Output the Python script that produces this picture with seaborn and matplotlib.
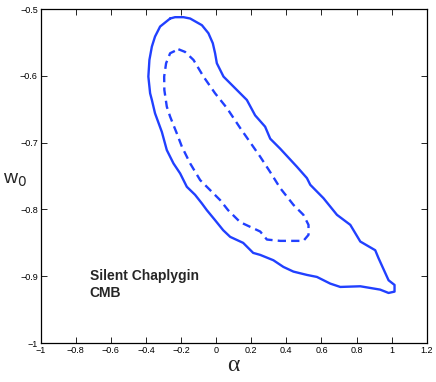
import matplotlib
matplotlib.use("Agg")
import matplotlib.pyplot as plt
import seaborn as sns
import pandas as pd

# Contour 1 (solid, outer)
outer_alpha = [-0.262, -0.234, -0.186, -0.148, -0.081, -0.044, -0.019, -0.006, 0.004, 0.042,
               0.118, 0.175, 0.222, 0.279, 0.308, 0.365, 0.460, 0.517, 0.536, 0.611,
               0.688, 0.764, 0.821, 0.906, 0.925, 0.982, 1.016, 1.016, 0.982, 0.934,
               0.821, 0.707, 0.650, 0.574, 0.517, 0.440, 0.383, 0.326, 0.251, 0.211,
               0.154, 0.080, 0.040, -0.006, -0.053, -0.081, -0.120, -0.167, -0.205, -0.243,
               -0.281, -0.309, -0.348, -0.366, -0.376, -0.386, -0.380, -0.366, -0.348, -0.319,
               -0.262]
outer_w0 = [-0.514, -0.512, -0.512, -0.514, -0.524, -0.536, -0.551, -0.566, -0.581, -0.601,
            -0.621, -0.636, -0.659, -0.676, -0.694, -0.709, -0.736, -0.753, -0.763, -0.783,
            -0.808, -0.823, -0.848, -0.861, -0.873, -0.906, -0.913, -0.923, -0.925, -0.920,
            -0.915, -0.916, -0.911, -0.901, -0.898, -0.893, -0.886, -0.876, -0.868, -0.865,
            -0.850, -0.841, -0.831, -0.816, -0.801, -0.791, -0.778, -0.766, -0.746, -0.731,
            -0.711, -0.684, -0.656, -0.636, -0.626, -0.601, -0.576, -0.556, -0.541, -0.526,
            -0.514]

# Contour 2 (dashed, inner)
inner_alpha = [-0.215, -0.177, -0.129, -0.072, -0.006, 0.061, 0.137, 0.251, 0.308, 0.365,
               0.440, 0.497, 0.526, 0.526, 0.497, 0.365, 0.289, 0.251, 0.137, 0.068,
               0.023, -0.034, -0.091, -0.148, -0.195, -0.224, -0.262, -0.281, -0.295, -0.296,
               -0.285, -0.262, -0.215]
inner_w0 = [-0.560, -0.564, -0.576, -0.601, -0.626, -0.648, -0.678, -0.721, -0.744, -0.768,
            -0.793, -0.808, -0.823, -0.838, -0.847, -0.847, -0.845, -0.833, -0.819, -0.801,
            -0.786, -0.771, -0.756, -0.731, -0.706, -0.686, -0.661, -0.646, -0.621, -0.601,
            -0.581, -0.566, -0.560]

xticks = [-1, -0.8, -0.6, -0.4, -0.2, 0, 0.2, 0.4, 0.6, 0.8, 1, 1.2]
xtick_labels = ["\u22121", "\u22120.8", "\u22120.6", "\u22120.4", "\u22120.2", "0",
                "0.2", "0.4", "0.6", "0.8", "1", "1.2"]
yticks = [-1, -0.9, -0.8, -0.7, -0.6, -0.5]
ytick_labels = ["\u22121", "\u22120.9", "\u22120.8", "\u22120.7", "\u22120.6", "\u22120.5"]

sns.set_style("ticks")
plt.rcParams['font.family'] = ['Liberation Sans', 'DejaVu Sans']

fig = plt.figure(figsize=(4.36, 3.82), dpi=100)
ax = fig.add_axes([0.093, 0.102, 0.886, 0.874])

blue = "#2140ff"
df_out = pd.DataFrame({"alpha": outer_alpha, "w0": outer_w0})
df_in = pd.DataFrame({"alpha": inner_alpha, "w0": inner_w0})
sns.lineplot(data=df_out, x="alpha", y="w0", sort=False, estimator=None,
             color=blue, lw=1.7, ax=ax, solid_joinstyle="round")
sns.lineplot(data=df_in, x="alpha", y="w0", sort=False, estimator=None,
             color=blue, lw=1.7, ax=ax, linestyle=(0, (3.5, 2.2)))

ax.set_xlim(-1, 1.2)
ax.set_ylim(-1, -0.5)
ax.set_xticks(xticks)
ax.set_xticklabels(xtick_labels)
ax.set_yticks(yticks)
ax.set_yticklabels(ytick_labels)
ax.tick_params(direction="in", length=4, width=0.6, labelsize=6.5, pad=2,
               top=True, right=True, colors="black")
for sp in ax.spines.values():
    sp.set_visible(True)
    sp.set_linewidth(0.9)
    sp.set_color("black")

ax.set_xlabel("\u03b1", fontsize=17, family=["Liberation Serif", "DejaVu Serif"], labelpad=0)
ax.set_ylabel("w$_0$", fontsize=14, rotation=0)
ax.yaxis.set_label_coords(-0.065, 0.46)

ax.text(-0.72, -0.912, "Silent Chaplygin\nCMB", fontsize=10, fontweight="bold",
        va="center", ha="left", linespacing=1.3)

fig.savefig("out.png", dpi=100)
